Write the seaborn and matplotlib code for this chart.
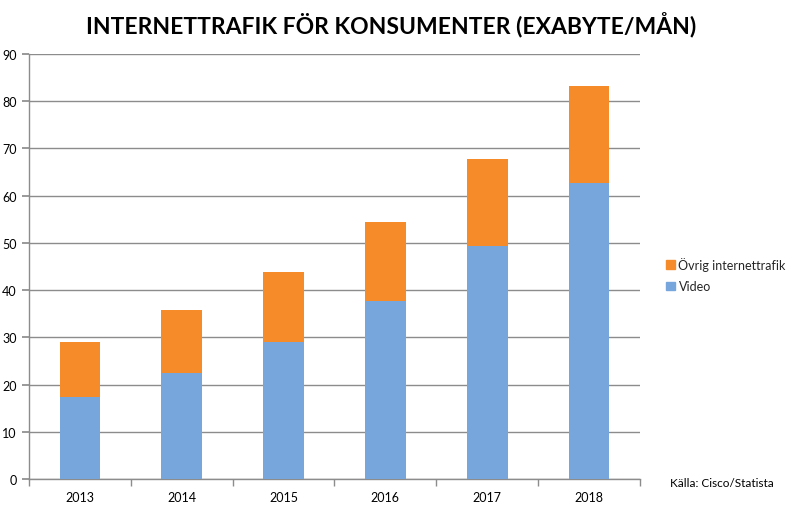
import matplotlib
matplotlib.use("Agg")
import matplotlib.pyplot as plt
import seaborn as sns
import pandas as pd
from matplotlib.patches import Patch

# Data (exabyte per month)
years = ["2013", "2014", "2015", "2016", "2017", "2018"]
video = [17.4, 22.4, 29.1, 37.7, 49.4, 62.6]
other = [11.6, 13.4, 14.7, 16.8, 18.3, 20.7]
y_ticks = [0, 10, 20, 30, 40, 50, 60, 70, 80, 90]

blue = "#77A6DD"
orange = "#F68B2A"
grid_col = "#8C8C8C"

sns.set_theme(style="white")
plt.rcParams['font.family'] = ['Lato', 'DejaVu Sans']

df = pd.DataFrame({"year": years, "video": video, "other": other})
df["total"] = df["video"] + df["other"]

fig = plt.figure(figsize=(7.86, 5.06), dpi=100)
ax = fig.add_axes([0.0369, 0.0514, 0.7773, 0.8399])

sns.barplot(data=df, x="year", y="total", color=orange, width=0.4,
            saturation=1, linewidth=0, ax=ax, zorder=3)
sns.barplot(data=df, x="year", y="video", color=blue, width=0.4,
            saturation=1, linewidth=0, ax=ax, zorder=4)

ax.set_ylim(0, 90)
ax.set_xlim(-0.5, len(years) - 0.5)
ax.set_yticks(y_ticks)
ax.yaxis.grid(True, color=grid_col, linewidth=1)
ax.set_axisbelow(True)
ax.set_xlabel("")
ax.set_ylabel("")

for s in ["top", "right"]:
    ax.spines[s].set_visible(False)
for s in ["left", "bottom"]:
    ax.spines[s].set_color(grid_col)
    ax.spines[s].set_linewidth(1)

# x ticks at category boundaries, labels centred under bars
ax.set_xticks([i - 0.5 for i in range(len(years) + 1)], minor=False)
ax.set_xticklabels([])
ax.set_xticks(range(len(years)), minor=True)
ax.set_xticklabels(years, minor=True)
ax.tick_params(axis="x", which="major", length=5, color=grid_col, direction="out",
               bottom=True, width=1)
ax.tick_params(axis="x", which="minor", length=0, labelsize=9, pad=9, colors="#000000")
ax.tick_params(axis="y", length=5, color=grid_col, direction="out", left=True,
               labelsize=9, pad=4, labelcolor="#000000")

fig.text(0.497, 0.951, "INTERNETTRAFIK FÖR KONSUMENTER (EXABYTE/MÅN)",
         ha="center", va="center", fontsize=16.5, fontweight="bold", color="#000000")

handles = [Patch(color=orange, label="Övrig internettrafik"),
           Patch(color=blue, label="Video")]
fig.legend(handles=handles, loc="center left", bbox_to_anchor=(0.833, 0.455),
           frameon=False, fontsize=9, handlelength=0.7, handleheight=0.7,
           handletextpad=0.3, labelspacing=0.75)

fig.text(0.853, 0.045, "Källa: Cisco/Statista", ha="left", va="center",
         fontsize=8.5, color="#000000")

fig.savefig("out.png", dpi=100)
